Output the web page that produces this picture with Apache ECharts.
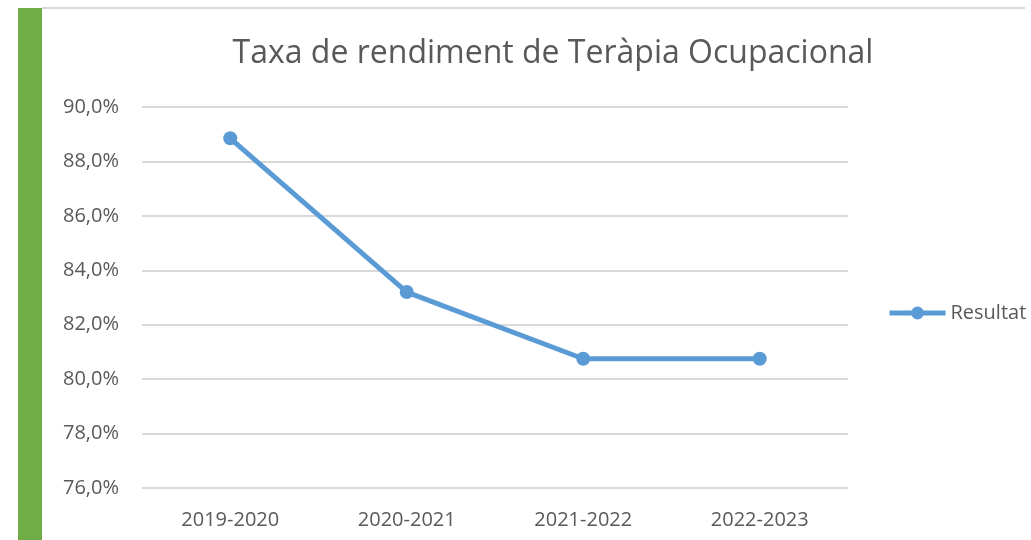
<!DOCTYPE html>
<html>
<head>
<meta charset="utf-8">
<script src="https://cdn.jsdelivr.net/npm/echarts@6/dist/echarts.min.js"></script>
<style>
  html, body { margin: 0; padding: 0; background: #fff; }
  #chart { width: 1031px; height: 540px; }
</style>
</head>
<body>
<div id="chart"></div>
<script>
// dades
var cursos = ['2019-2020', '2020-2021', '2021-2022', '2022-2023'];
var resultat = [88.85, 83.2, 80.75, 80.75];

var chart = echarts.init(document.getElementById('chart'));

var option = {
    backgroundColor: '#fff',
    textStyle: { fontFamily: 'Open Sans' },
    title: {
        text: 'Taxa de rendiment de Teràpia Ocupacional',
        left: 548,
        textAlign: 'center',
        top: 33,
        textStyle: { fontSize: 32, fontWeight: 'normal', color: '#595959', fontFamily: 'Open Sans' }
    },
    legend: {
        data: ['Resultat'],
        orient: 'vertical',
        left: 887,
        top: 303,
        padding: 0,
        itemWidth: 56,
        itemHeight: 16,
        itemGap: 4,
        lineStyle: { width: 5 },
        textStyle: { fontSize: 20, color: '#595959', padding: [0, 0, 0, 0] }
    },
    graphic: [
        { type: 'rect', shape: { x: 18, y: 8, width: 24, height: 540 }, style: { fill: '#70AD47' } },
        { type: 'line', shape: { x1: 42, y1: 8, x2: 1025, y2: 8 }, style: { stroke: '#d9d9d9', lineWidth: 2 } }
    ],
    grid: { left: 142, right: 183, top: 107, bottom: 52 },
    xAxis: {
        type: 'category',
        data: cursos,
        boundaryGap: true,
        axisLine: { show: false },
        axisTick: { show: false },
        axisLabel: { fontSize: 20, color: '#595959', margin: 22 }
    },
    yAxis: {
        type: 'value',
        min: 76,
        max: 90,
        interval: 2,
        axisLine: { show: false },
        axisTick: { show: false },
        axisLabel: {
            fontSize: 20,
            color: '#595959',
            margin: 23,
            formatter: function (v) { return v.toFixed(1).replace('.', ',') + '%'; }
        },
        splitLine: { lineStyle: { color: '#d9d9d9', width: 2 } }
    },
    series: [{
        name: 'Resultat',
        type: 'line',
        data: resultat,
        symbol: 'circle',
        symbolSize: 14,
        lineStyle: { color: '#5B9BD5', width: 5 },
        itemStyle: { color: '#5B9BD5' }
    }]
};

chart.setOption(option);
</script>
</body>
</html>
